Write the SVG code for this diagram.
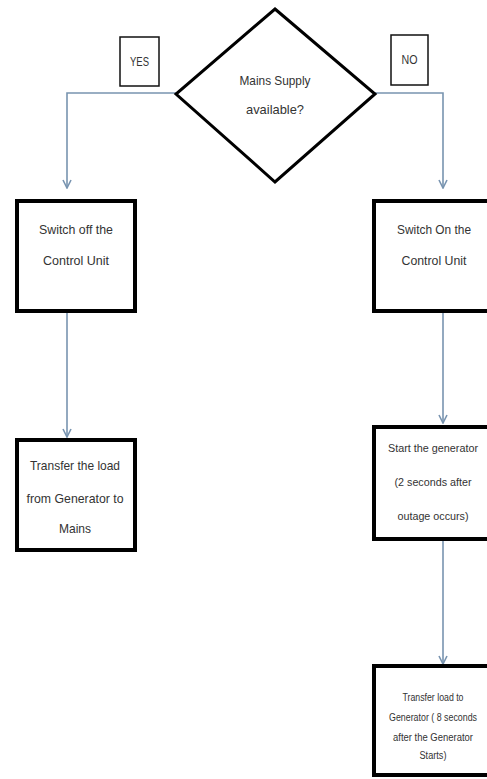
<svg xmlns="http://www.w3.org/2000/svg" width="487" height="779" viewBox="0 0 487 779">
<style>
.box{fill:#fff;stroke:#000;stroke-width:4}
.lbl{fill:#fff;stroke:#111;stroke-width:1.5}
.dia{fill:#fff;stroke:#000;stroke-width:3}
.t{font-family:"Liberation Sans",Arial,sans-serif;font-size:13px;fill:#333;text-anchor:middle}
.s{font-size:11px}
.xs{font-size:10px}
.c{fill:none;stroke:#7894b0;stroke-width:1.6}
</style>
<defs>
<marker id="ah" viewBox="0 0 10 10" refX="9" refY="5" markerWidth="10" markerHeight="10" markerUnits="userSpaceOnUse" orient="auto">
<path d="M1,1 L9,5 L1,9" fill="none" stroke="#7894b0" stroke-width="1.6"/>
</marker>
</defs>
<rect width="487" height="779" fill="#fff"/>
<g id="connectors">
<polyline class="c" points="176,93 67,93 67,188" marker-end="url(#ah)"/>
<polyline class="c" points="375,93 443,93 443,188" marker-end="url(#ah)"/>
<line class="c" x1="67" y1="312" x2="67" y2="437" marker-end="url(#ah)"/>
<line class="c" x1="443" y1="312" x2="443" y2="423" marker-end="url(#ah)"/>
<line class="c" x1="443" y1="540" x2="443" y2="664" marker-end="url(#ah)"/>
</g>
<g id="yes">
<rect class="lbl" x="120" y="37" width="39" height="49"/>
<text class="t" x="139.5" y="66" textLength="19" lengthAdjust="spacingAndGlyphs">YES</text>
</g>
<g id="no">
<rect class="lbl" x="391" y="35" width="37" height="50"/>
<text class="t" x="409.5" y="64" textLength="16" lengthAdjust="spacingAndGlyphs">NO</text>
</g>
<g id="decision">
<polygon class="dia" points="275,9 375,94 275,182 176,94"/>
<text class="t" x="275" y="85" textLength="71" lengthAdjust="spacingAndGlyphs">Mains Supply</text>
<text class="t" x="275" y="114" textLength="58" lengthAdjust="spacingAndGlyphs">available?</text>
</g>
<g id="switchOff">
<rect class="box" x="17" y="201" width="118" height="110"/>
<text class="t" x="76" y="234" textLength="74" lengthAdjust="spacingAndGlyphs">Switch off the</text>
<text class="t" x="76" y="265" textLength="66" lengthAdjust="spacingAndGlyphs">Control Unit</text>
</g>
<g id="switchOn">
<rect class="box" x="374" y="201" width="140" height="110"/>
<text class="t" x="434" y="234" textLength="74" lengthAdjust="spacingAndGlyphs">Switch On the</text>
<text class="t" x="434" y="265" textLength="65" lengthAdjust="spacingAndGlyphs">Control Unit</text>
</g>
<g id="transferMains">
<rect class="box" x="17" y="440" width="118" height="110"/>
<text class="t" x="75" y="470" textLength="90" lengthAdjust="spacingAndGlyphs">Transfer the load</text>
<text class="t" x="75" y="503" textLength="97" lengthAdjust="spacingAndGlyphs">from Generator to</text>
<text class="t" x="75" y="533" textLength="32" lengthAdjust="spacingAndGlyphs">Mains</text>
</g>
<g id="startGen">
<rect class="box" x="374" y="427" width="140" height="112"/>
<text class="t s" x="433" y="452" textLength="90" lengthAdjust="spacingAndGlyphs">Start the generator</text>
<text class="t s" x="433" y="486" textLength="77" lengthAdjust="spacingAndGlyphs">(2 seconds after</text>
<text class="t s" x="433" y="520" textLength="71" lengthAdjust="spacingAndGlyphs">outage occurs)</text>
</g>
<g id="transferGen">
<rect class="box" x="374" y="666" width="140" height="109"/>
<text class="t xs" x="433" y="701" textLength="61" lengthAdjust="spacingAndGlyphs">Transfer load to</text>
<text class="t xs" x="433" y="721" textLength="88" lengthAdjust="spacingAndGlyphs">Generator ( 8 seconds</text>
<text class="t xs" x="433" y="741" textLength="80" lengthAdjust="spacingAndGlyphs">after the Generator</text>
<text class="t xs" x="433" y="759" textLength="27" lengthAdjust="spacingAndGlyphs">Starts)</text>
</g>
</svg>
